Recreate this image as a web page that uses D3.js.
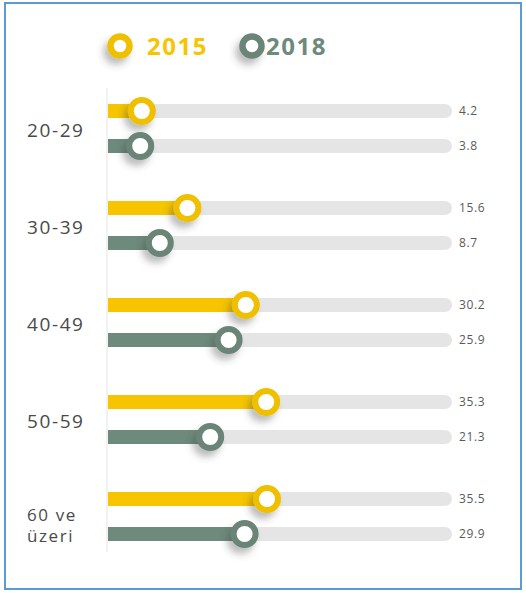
<!DOCTYPE html>
<html><head><meta charset="utf-8">
<script src="https://cdn.jsdelivr.net/npm/d3@7"></script>
<style>
html,body{margin:0;padding:0;background:#fff;}
svg{display:block;}
</style></head>
<body>
<svg id="chart" width="526" height="593"></svg>
<script>
const categories = ["20-29", "30-39", "40-49", "50-59", "60 ve\nüzeri"];
const seriesNames = ["2015", "2018"];
const values2015 = [4.2, 15.6, 30.2, 35.3, 35.5];
const values2018 = [3.8, 8.7, 25.9, 21.3, 29.9];

const colors = {"2015": "#f6c500", "2018": "#6d8a7c"};
const ringColors = {"2015": "#efc000", "2018": "#6a8578"};

const svg = d3.select("#chart");

// frame
svg.append("rect").attr("x", 5).attr("y", 3).attr("width", 516).attr("height", 586)
  .attr("fill", "#fff").attr("stroke", "#5b9bd5").attr("stroke-width", 2);

const defs = svg.append("defs");
const f = defs.append("filter").attr("id", "sh").attr("x", "-100%").attr("y", "-100%").attr("width", "300%").attr("height", "300%");
f.append("feDropShadow").attr("dx", -4).attr("dy", 6).attr("stdDeviation", 3.5)
  .attr("flood-color", "#444").attr("flood-opacity", 0.35);
const f2 = defs.append("filter").attr("id", "axsh").attr("x", "-200%").attr("y", "0%").attr("width", "500%").attr("height", "100%");
f2.append("feGaussianBlur").attr("stdDeviation", 1.5);

const x0 = 108, trackEnd = 452;
const x = d3.scaleLinear().domain([0, 40]).range([125, 285]);
const y = d3.scalePoint().domain(categories).range([129, 517]);
const off = {"2015": -18, "2018": 17};

// axis line with soft shadow
svg.append("line").attr("x1", 106).attr("x2", 106).attr("y1", 88).attr("y2", 552)
  .attr("stroke", "#d8d8d8").attr("stroke-width", 3).attr("filter", "url(#axsh)");
svg.append("line").attr("x1", 107).attr("x2", 107).attr("y1", 88).attr("y2", 552)
  .attr("stroke", "#e4e4e4").attr("stroke-width", 1);

const rows = [];
categories.forEach((c, i) => {
  rows.push({cat: c, s: "2015", v: values2015[i]});
  rows.push({cat: c, s: "2018", v: values2018[i]});
});
const barH = 14;
const cy = d => y(d.cat) + off[d.s];

// tracks
svg.selectAll(".track").data(rows).enter().append("rect")
  .attr("x", x0).attr("y", d => cy(d) - barH / 2)
  .attr("width", trackEnd - x0).attr("height", barH)
  .attr("rx", barH / 2).attr("fill", "#e5e5e5");
svg.selectAll(".trackfix").data(rows).enter().append("rect")
  .attr("x", x0).attr("y", d => cy(d) - barH / 2)
  .attr("width", 20).attr("height", barH).attr("fill", "#e5e5e5");

// bars
svg.selectAll(".bar").data(rows).enter().append("rect")
  .attr("x", x0).attr("y", d => cy(d) - barH / 2)
  .attr("width", d => x(d.v) - x0).attr("height", barH)
  .attr("fill", d => colors[d.s]);

// circles
svg.selectAll(".ring").data(rows).enter().append("circle")
  .attr("cx", d => x(d.v)).attr("cy", cy).attr("r", 11)
  .attr("fill", "#fff").attr("stroke", d => ringColors[d.s]).attr("stroke-width", 6)
  .attr("filter", "url(#sh)");

// value labels
svg.selectAll(".val").data(rows).enter().append("text")
  .attr("x", 459).attr("y", d => cy(d)).attr("dy", "0.35em")
  .attr("font-family", "'Open Sans', sans-serif").attr("font-size", 12)
  .attr("letter-spacing", 0.6)
  .attr("fill", "#5a5a5a").text(d => d.v.toFixed(1));

// category labels
categories.forEach(c => {
  const lines = c.split("\n");
  const multi = lines.length > 1;
  const lh = 21;
  const shift = multi ? 9 : 1;
  lines.forEach((l, j) => {
    svg.append("text").attr("x", 27)
      .attr("y", y(c) + shift + (j - (lines.length - 1) / 2) * lh)
      .attr("dy", "0.35em")
      .attr("font-family", "'Open Sans', sans-serif").attr("font-size", multi ? 17 : 19)
      .attr("letter-spacing", 1.6)
      .attr("fill", "#4a4a4a").text(l);
  });
});

// legend
const lg = [{s: "2015", cx: 120, tx: 147}, {s: "2018", cx: 252, tx: 266}];
lg.forEach(l => {
  svg.append("circle").attr("cx", l.cx).attr("cy", 46).attr("r", 9.5)
    .attr("fill", "#fff").attr("stroke", ringColors[l.s]).attr("stroke-width", 6.5)
    .attr("filter", "url(#sh)");
  svg.append("text").attr("x", l.tx).attr("y", 46).attr("dy", "0.36em")
    .attr("font-family", "'Open Sans', sans-serif").attr("font-weight", "bold")
    .attr("font-size", 24).attr("letter-spacing", 1.5)
    .attr("fill", colors[l.s]).text(l.s);
});
</script>
</body></html>
